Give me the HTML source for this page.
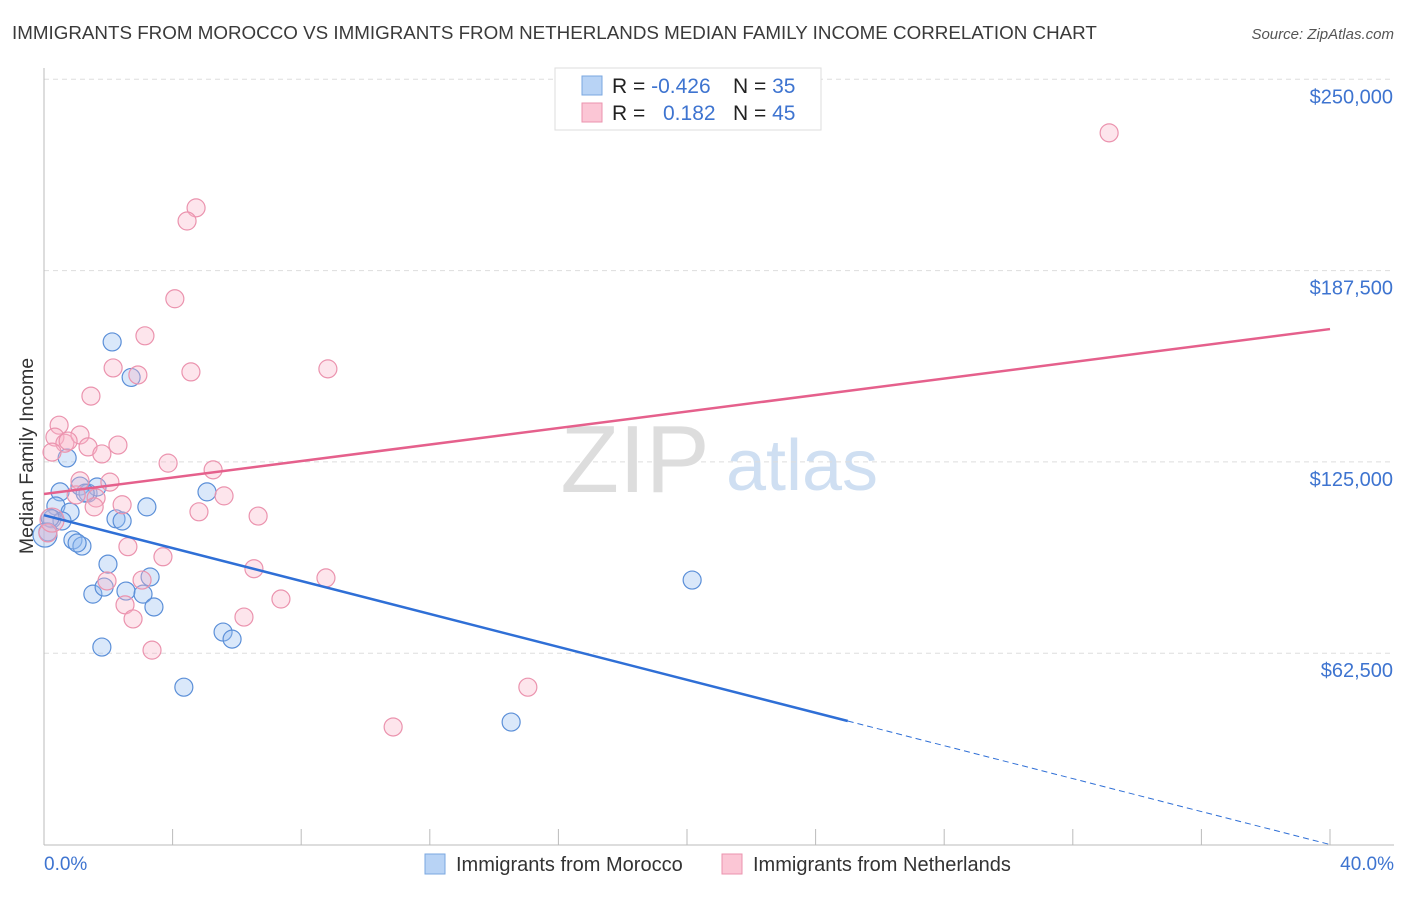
<!DOCTYPE html>
<html><head><meta charset="utf-8"><style>
body{margin:0;background:#fff;font-family:"Liberation Sans",sans-serif;}
svg text{font-family:"Liberation Sans",sans-serif;}
</style></head><body>
<svg id="chart" width="1406" height="892" xmlns="http://www.w3.org/2000/svg">
<text x="12" y="39" font-size="18.8" fill="#3a3a3a">IMMIGRANTS FROM MOROCCO VS IMMIGRANTS FROM NETHERLANDS MEDIAN FAMILY INCOME CORRELATION CHART</text>
<text x="1394" y="39" font-size="15" fill="#555" text-anchor="end" font-style="italic">Source: ZipAtlas.com</text>
<text x="33" y="456" font-size="19.5" fill="#333" text-anchor="middle" transform="rotate(-90 33 456)">Median Family Income</text>
<text x="635" y="492" font-size="96" fill="#ddd" text-anchor="middle" font-family="Liberation Serif">ZIP</text>
<text x="802" y="490" font-size="72" fill="#cfdff2" text-anchor="middle">atlas</text>
<g id="grid"></g><g id="axes"></g><g id="pts"></g><g id="lines"></g>
<g>
<rect x="555" y="68" width="266" height="62" fill="#fff" stroke="#ddd"/>
<rect x="582" y="76" width="20" height="19" fill="#b8d3f5" stroke="#7aa7e0"/>
<rect x="582" y="103" width="20" height="19" fill="#fbc6d5" stroke="#eb93ae"/>
<text x="612" y="93" font-size="21" fill="#222">R = <tspan fill="#3e74d0">-0.426</tspan></text>
<text x="733" y="93" font-size="21" fill="#222">N = <tspan fill="#3e74d0">35</tspan></text>
<text x="612" y="120" font-size="21" fill="#222">R = </text>
<text x="663" y="120" font-size="21" fill="#3e74d0">0.182</text>
<text x="733" y="120" font-size="21" fill="#222">N = <tspan fill="#3e74d0">45</tspan></text>
</g>
<g>
<rect x="425" y="854" width="20" height="20" fill="#b8d3f5" stroke="#7aa7e0"/>
<text x="456" y="871" font-size="20" fill="#333">Immigrants from Morocco</text>
<rect x="722" y="854" width="20" height="20" fill="#fbc6d5" stroke="#eb93ae"/>
<text x="753" y="871" font-size="20" fill="#333">Immigrants from Netherlands</text>
</g>
</svg>
<script>
const yTicks=[62500,125000,187500,250000];
const yTickLabels=["$62,500","$125,000","$187,500","$250,000"];
const xTickLabels=["0.0%","40.0%"];
const moroccoX=[2.12,2.71,0.72,0.50,1.12,1.37,1.65,5.07,3.20,0.37,0.81,0.25,0.56,2.24,2.43,0.12,0.90,1.18,1.03,1.99,3.30,1.52,1.87,2.55,3.08,3.42,1.80,5.57,5.85,4.35,14.53,20.16,0.19,0.03,1.28];
const moroccoY=[164.2,152.6,126.3,115.2,117.1,114.8,116.8,115.2,110.3,110.6,108.6,106.4,105.7,106.4,105.7,102.1,99.5,97.5,98.5,91.6,87.4,81.8,84.1,82.8,81.8,77.6,64.5,69.4,67.1,51.4,40.0,86.4,106.7,101.1,114.8];
const nethX=[33.13,4.73,4.45,4.07,3.14,2.15,2.92,4.57,8.83,1.46,0.47,0.34,0.65,1.12,0.75,0.25,1.37,2.30,1.80,3.86,5.26,1.12,2.05,1.00,1.62,5.60,2.43,4.82,1.56,6.66,0.12,2.61,3.70,6.53,8.77,1.96,3.05,2.52,7.37,6.22,2.77,3.36,15.05,10.86,0.25];
const nethY=[232.5,208.0,203.7,178.3,166.2,155.7,153.4,154.4,155.4,146.5,137.0,133.1,131.1,133.8,131.8,128.2,129.9,130.5,127.6,124.6,122.4,118.8,118.4,114.2,113.2,113.9,111.0,108.7,110.3,107.3,101.8,97.3,94.0,90.1,87.1,86.1,86.4,78.3,80.2,74.3,73.7,63.5,51.4,38.4,106.0];
const moroccoTrend=[107.6,0];
const nethTrend=[114.5,168.4];
const NS="http://www.w3.org/2000/svg";
const sx=p=>44+p*32.15;
const sy=v=>844.5-v/62.5*191.3;
function mk(tag,attrs,parent){const e=document.createElementNS(NS,tag);for(const k in attrs)e.setAttribute(k,attrs[k]);document.getElementById(parent).appendChild(e);return e;}
yTicks.forEach((t,i)=>{
  const g=mk('line',{x1:44,x2:1394,y1:sy(t/1000),y2:sy(t/1000),stroke:'#ddd','stroke-dasharray':'5,4'},'grid');
  
  
  const l=mk('text',{x:1393,y:sy(t/1000)+24,'font-size':20,fill:'#3e74d0','text-anchor':'end'},'axes');
  l.textContent=yTickLabels[i];
  
  
});
const ya=mk('line',{x1:44,x2:44,y1:68,y2:845,stroke:'#bbb'},'axes');


const xa=mk('line',{x1:44,x2:1394,y1:845,y2:845,stroke:'#bbb'},'axes');


for(let i=0;i<=10;i++){const t=mk('line',{x1:sx(i*4),x2:sx(i*4),y1:829,y2:845,stroke:'#bbb'},'axes');
  
  }
[[0,'start',44],[40,'end',1394]].forEach((a,i)=>{const t=mk('text',{x:a[2],y:870,'font-size':19,fill:'#3e74d0','text-anchor':a[1]},'axes');t.textContent=xTickLabels[i];
  
  });
moroccoX.forEach((x,i)=>{const c=mk('circle',{cx:sx(x),cy:sy(moroccoY[i]),r:(i==33?12:9),fill:'rgba(150,190,240,0.35)',stroke:'#5b8fd8','stroke-width':1.2},'pts');
  
  });
nethX.forEach((x,i)=>{const c=mk('circle',{cx:sx(x),cy:sy(nethY[i]),r:(i==44?12:9),fill:'rgba(250,180,200,0.35)',stroke:'#eb93ae','stroke-width':1.2},'pts');
  
  });
const bAt=p=>moroccoTrend[0]+(moroccoTrend[1]-moroccoTrend[0])*p/40;
const b1=mk('line',{x1:sx(0),y1:sy(bAt(0)),x2:sx(25),y2:sy(bAt(25)),stroke:'#2f6fd6','stroke-width':2.5},'lines');


const b2=mk('line',{x1:sx(25),y1:sy(bAt(25)),x2:sx(40),y2:sy(bAt(40)),stroke:'#2f6fd6','stroke-width':1,'stroke-dasharray':'6,4'},'lines');


const r1=mk('line',{x1:sx(0),y1:sy(nethTrend[0]),x2:sx(40),y2:sy(nethTrend[1]),stroke:'#e5608c','stroke-width':2.5},'lines');


</script>
</body></html>
